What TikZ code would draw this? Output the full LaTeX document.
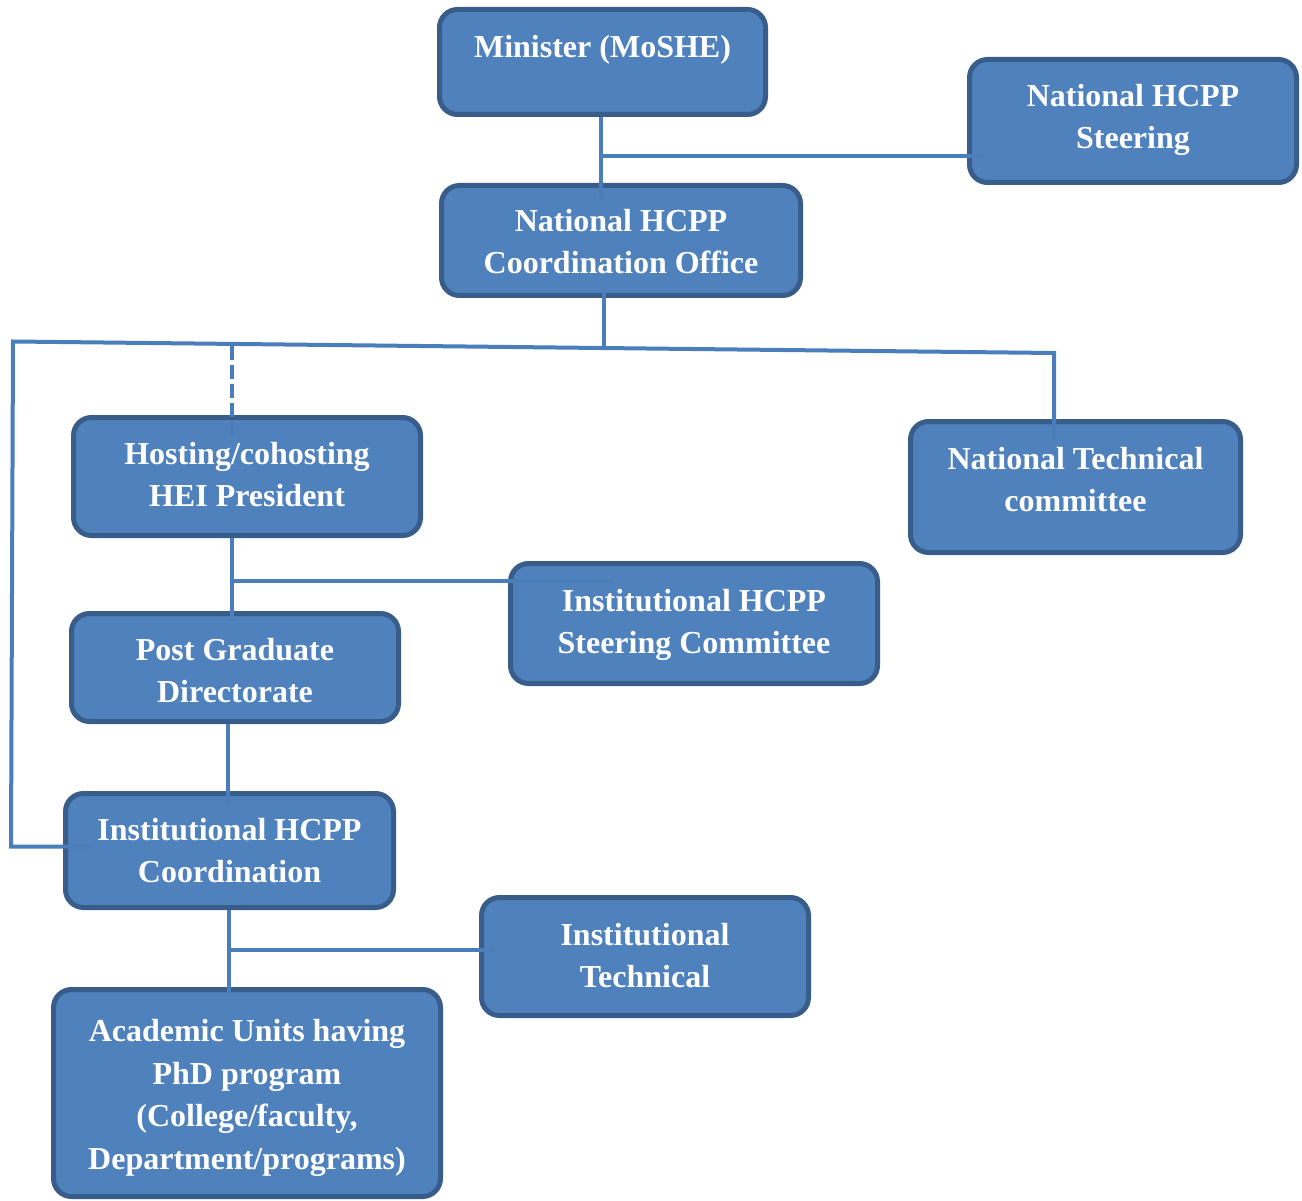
\documentclass[tikz,border=0pt]{standalone}
\usepackage{fontspec}
\setmainfont{Liberation Serif}
\usetikzlibrary{calc}
\definecolor{boxfill}{HTML}{4F81BD}
\definecolor{boxedge}{HTML}{385D8A}
\definecolor{linecol}{HTML}{4A7EBB}
\newcommand{\tb}[1]{\begin{tabular}{@{}c@{}}#1\end{tabular}}
\begin{document}
\begin{tikzpicture}[x=1pt, y=-1pt,
  box/.style={rectangle, draw=boxedge, fill=boxfill, line width=5pt, rounded corners=18pt, inner sep=0pt},
  txt/.style={text=white, font=\fontsize{32}{42.5}\selectfont\bfseries, inner sep=0pt},
  conn/.style={draw=linecol, line width=4pt},
  dashconn/.style={conn, dash pattern=on 14pt off 5pt}]
\useasboundingbox (0,0) rectangle (1302,1201);

% boxes
\node[box, minimum width=326pt, minimum height=105pt] (min)  at (602.5,62)   {};
\node[box, minimum width=327pt, minimum height=123pt] (nst)  at (1133,121)   {};
\node[box, minimum width=359pt, minimum height=110pt] (off)  at (621,240.5)  {};
\node[box, minimum width=347pt, minimum height=118pt] (host) at (247,476.5)  {};
\node[box, minimum width=330pt, minimum height=131pt] (ntc)  at (1075.5,487) {};
\node[box, minimum width=367pt, minimum height=120pt] (ist)  at (694,623.5)  {};
\node[box, minimum width=327pt, minimum height=108pt] (pg)   at (235,667.5)  {};
\node[box, minimum width=328pt, minimum height=114pt] (ico)  at (229.5,850.5){};
\node[box, minimum width=327pt, minimum height=118pt] (itc)  at (645,956.5)  {};
\node[box, minimum width=387pt, minimum height=207pt] (acu)  at (247,1093)   {};

% junctions
\coordinate (jA) at (601,156);
\coordinate (jB) at (604,348);
\coordinate (tL) at (13,341.5);
\coordinate (tR) at (1054,353);
\coordinate (bL) at (11,846.5);
\coordinate (jC) at (232,346);
\coordinate (jD) at (232,580.5);
\coordinate (jE) at (228,760);
\coordinate (jF) at (229,950);

% connectors
\draw[conn] (min.south -| jA) -- ($(off.north -| jA)+(0,17)$);
\draw[conn] (jA) -- ($(nst.west |- jA)+(17,0)$);
\draw[conn] ($(off.south -| jB)+(0,-8)$) -- (jB);
\draw[conn] ($(ntc.north -| tR)+(0,20)$) -- (tR) -- (tL) -- (bL) -- ($(ico.west |- bL)+(28,0)$);
\draw[dashconn] (jC) -- ($(host.north -| jC)+(0,25)$);
\draw[conn] (host.south -| jD) -- ($(pg.north -| jD)+(0,10)$);
\draw[conn] (jD) -- ($(ist.west |- jD)+(105,0)$);
\draw[conn] (pg.south -| jE) -- ($(ico.north -| jE)+(0,14)$);
\draw[conn] (ico.south -| jF) -- ($(acu.north -| jF)+(0,6)$);
\draw[conn] (jF) -- ($(itc.west |- jF)+(16,0)$);

% texts
\node[txt] (minT)  at (602.5,49)  {\tb{Minister (MoSHE)}};
\node[txt] (nstT)  at (1133,119)  {\tb{National HCPP\\Steering}};
\node[txt] (offT)  at (621,244)   {\tb{National HCPP\\Coordination Office}};
\node[txt] (hostT) at (247,477)   {\tb{Hosting/cohosting\\HEI President}};
\node[txt] (ntcT)  at (1075.5,482){\tb{National Technical\\committee}};
\node[txt] (istT)  at (694,624)   {\tb{Institutional HCPP\\Steering Committee}};
\node[txt] (pgT)   at (235,673)   {\tb{Post Graduate\\Directorate}};
\node[txt] (icoT)  at (229.5,853) {\tb{Institutional HCPP\\Coordination}};
\node[txt] (itcT)  at (645,958)   {\tb{Institutional\\Technical}};
\node[txt] (acuT)  at (247,1097)  {\tb{Academic Units having\\PhD program\\(College/faculty,\\Department/programs)}};
\end{tikzpicture}
\end{document}
